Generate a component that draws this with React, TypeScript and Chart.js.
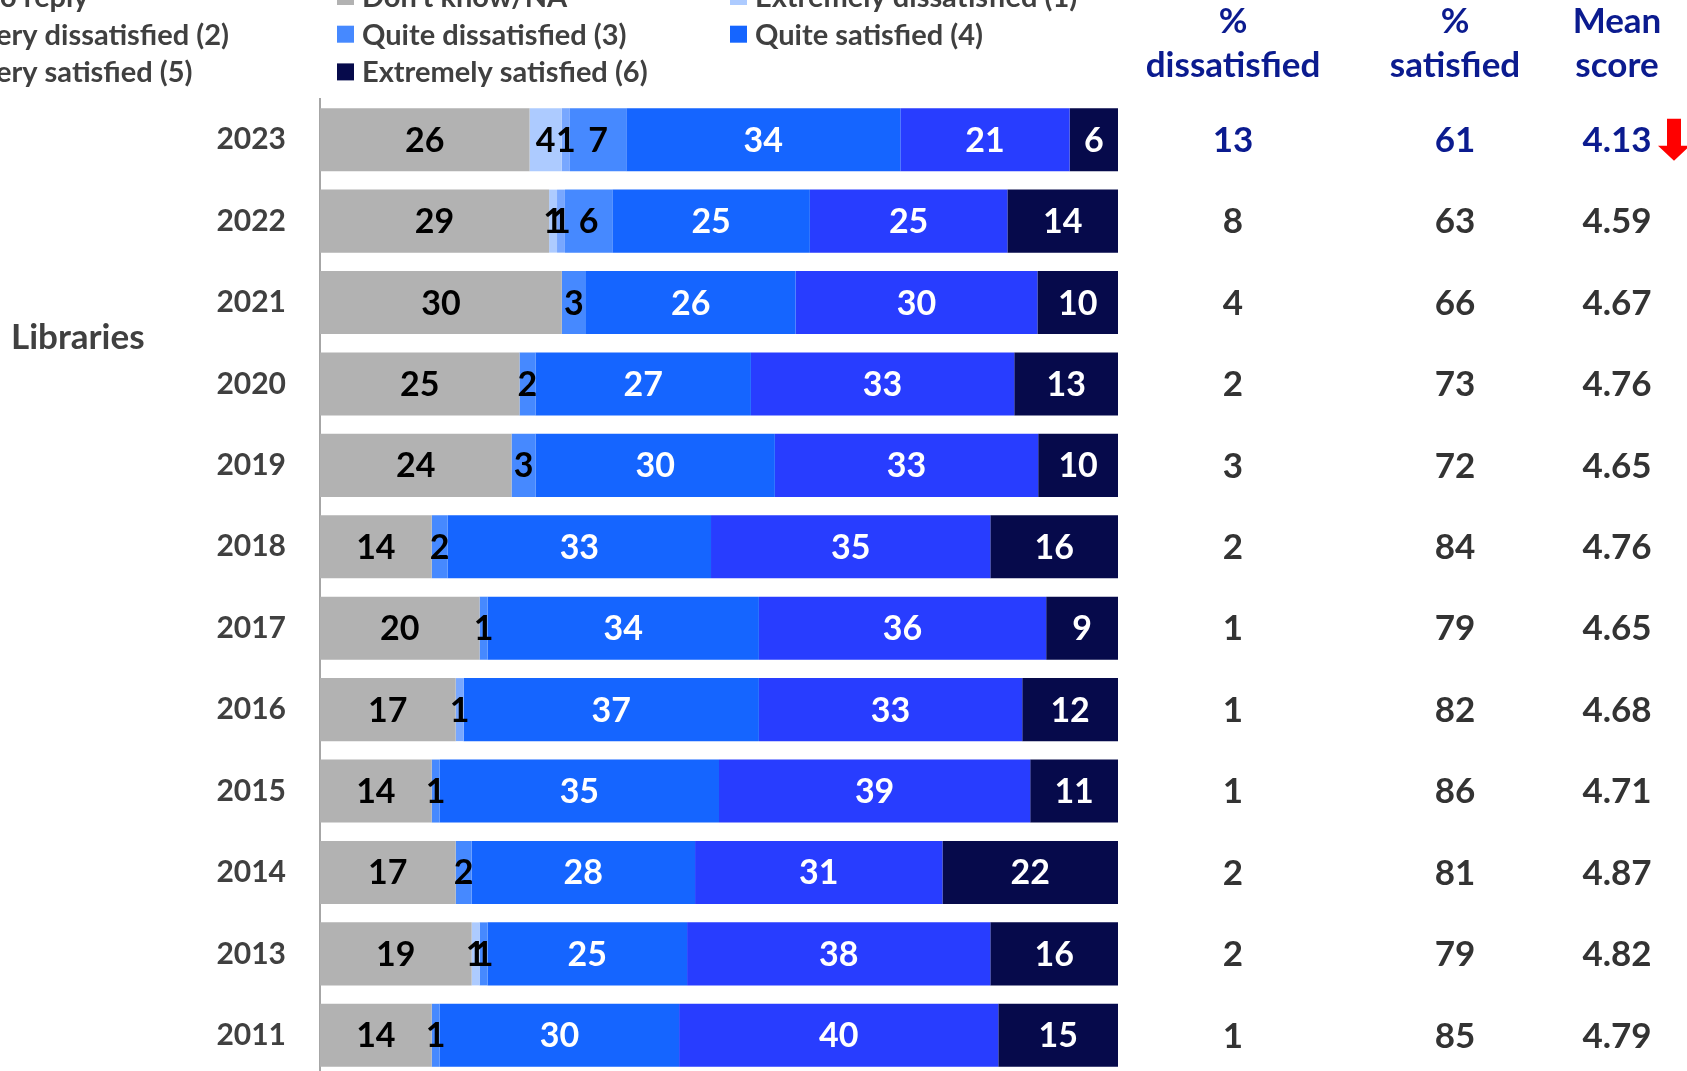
import React, { useEffect, useRef } from "react";
import { Chart, registerables } from "chart.js";

Chart.register(...registerables);

// ---------- data ----------
const years = ["2023", "2022", "2021", "2020", "2019", "2018", "2017", "2016", "2015", "2014", "2013", "2011"];
const groupLabel = "Libraries";

const seriesNames = [
  "No reply",
  "Don't know/NA",
  "Extremely dissatisfied (1)",
  "Very dissatisfied (2)",
  "Quite dissatisfied (3)",
  "Quite satisfied (4)",
  "Very satisfied (5)",
  "Extremely satisfied (6)",
];

const noReply = [0, 0, 0, 0, 0, 0, 0, 0, 0, 0, 0, 0];
const dontKnow = [26, 29, 30, 25, 24, 14, 20, 17, 14, 17, 19, 14];
const extremelyDissatisfied = [4, 1, 0, 0, 0, 0, 0, 0, 0, 0, 1, 0];
const veryDissatisfied = [1, 1, 0, 0, 0, 0, 0, 1, 0, 0, 0, 0];
const quiteDissatisfied = [7, 6, 3, 2, 3, 2, 1, 0, 1, 2, 1, 1];
const quiteSatisfied = [34, 25, 26, 27, 30, 33, 34, 37, 35, 28, 25, 30];
const verySatisfied = [21, 25, 30, 33, 33, 35, 36, 33, 39, 31, 38, 40];
const extremelySatisfied = [6, 14, 10, 13, 10, 16, 9, 12, 11, 22, 16, 15];

const pctDissatisfied = ["13", "8", "4", "2", "3", "2", "1", "1", "1", "2", "2", "1"];
const pctSatisfied = ["61", "63", "66", "73", "72", "84", "79", "82", "86", "81", "79", "85"];
const meanScore = ["4.13", "4.59", "4.67", "4.76", "4.65", "4.76", "4.65", "4.68", "4.71", "4.87", "4.82", "4.79"];

const columnHeaders = [
  ["%", "dissatisfied"],
  ["%", "satisfied"],
  ["Mean", "score"],
];

const allSeries = [
  noReply,
  dontKnow,
  extremelyDissatisfied,
  veryDissatisfied,
  quiteDissatisfied,
  quiteSatisfied,
  verySatisfied,
  extremelySatisfied,
];

// ---------- styles ----------
const seriesColors = ["#d9d9d9", "#b2b2b2", "#adcbff", "#78a7ff", "#4689ff", "#1565ff", "#283dff", "#060a4b"];
const labelColors = ["#000", "#000", "#000", "#000", "#000", "#fff", "#fff", "#fff"];
const FONT = "Lato, 'Open Sans', sans-serif";
const NAVY = "#0b1b8f";
const GREY_TEXT = "#333333";

const W = 1687;
const H = 1080;
const PLOT_LEFT = 320;
const PLOT_RIGHT = 1118;
const PLOT_TOP = 99;
const PLOT_BOTTOM = 1076;

const totals = years.map((_, j) => allSeries.reduce((s, arr) => s + arr[j], 0));

const overlayPlugin = {
  id: "overlay",
  afterDatasetsDraw(chart: any) {
    const ctx = chart.ctx;
    ctx.save();
    // bar value labels
    ctx.font = `bold 34px ${FONT}`;
    ctx.textAlign = "center";
    ctx.textBaseline = "middle";
    chart.data.datasets.forEach((ds: any, i: number) => {
      const meta = chart.getDatasetMeta(i);
      meta.data.forEach((bar: any, j: number) => {
        const raw = allSeries[i][j];
        if (!raw) return;
        const p = bar.getProps(["x", "y", "base"], true);
        ctx.fillStyle = labelColors[i];
        ctx.fillText(String(raw), (p.x + p.base) / 2, p.y + 1);
      });
    });
    ctx.restore();
  },
  afterDraw(chart: any) {
    const ctx = chart.ctx;
    const yScale = chart.scales.y;
    ctx.save();
    ctx.textBaseline = "middle";

    // legend (3 columns); first column right-anchored so its widest text ends at x=229
    ctx.font = `bold 29px ${FONT}`;
    ctx.textAlign = "left";
    const col1Width = Math.max(
      ...chart.data.datasets.filter((_: any, k: number) => k % 3 === 0).map((d: any) => ctx.measureText(d.label).width)
    );
    const colTextX = [229 - col1Width, 362, 755];
    chart.data.datasets.forEach((ds: any, k: number) => {
      const col = k % 3;
      const row = Math.floor(k / 3);
      const tx = colTextX[col];
      const my = -3.5 + row * 37.7;
      ctx.fillStyle = ds.backgroundColor;
      ctx.fillRect(tx - 25, my - 8.5, 17, 17);
      ctx.fillStyle = "#404040";
      ctx.fillText(ds.label, tx, my + 1);
    });

    // group label
    ctx.font = `bold 35px ${FONT}`;
    ctx.fillStyle = "#404040";
    ctx.textAlign = "left";
    ctx.fillText(groupLabel, 11, 338);

    // column headers
    const colX = [1233, 1455, 1617];
    ctx.font = `bold 35px ${FONT}`;
    ctx.textAlign = "center";
    ctx.fillStyle = NAVY;
    columnHeaders.forEach((h, c) => {
      ctx.fillText(h[0], colX[c], 22);
      ctx.fillText(h[1], colX[c], 66);
    });

    // column values
    ctx.font = `bold 35px ${FONT}`;
    const cols = [pctDissatisfied, pctSatisfied, meanScore];
    years.forEach((_, j) => {
      const y = yScale.getPixelForValue(j);
      ctx.fillStyle = j === 0 ? NAVY : GREY_TEXT;
      cols.forEach((arr, c) => ctx.fillText(arr[j], colX[c], y + 1));
    });

    // red down arrow next to the 2023 mean score
    const ay = yScale.getPixelForValue(0);
    ctx.fillStyle = "#ff0000";
    ctx.beginPath();
    ctx.moveTo(1667, ay - 21);
    ctx.lineTo(1681, ay - 21);
    ctx.lineTo(1681, ay + 6);
    ctx.lineTo(1690, ay + 6);
    ctx.lineTo(1674, ay + 21);
    ctx.lineTo(1658, ay + 6);
    ctx.lineTo(1667, ay + 6);
    ctx.closePath();
    ctx.fill();
    ctx.restore();
  },
};

export default function App() {
  const ref = useRef<HTMLCanvasElement | null>(null);

  useEffect(() => {
    if (!ref.current) return;
    const datasets = allSeries.map((arr, i) => ({
      label: seriesNames[i],
      data: arr.map((v, j) => (v / totals[j]) * 100),
      backgroundColor: seriesColors[i],
      borderWidth: 0,
      barPercentage: 0.774,
      categoryPercentage: 1,
    }));
    const chart = new Chart(ref.current, {
      type: "bar",
      data: { labels: years, datasets },
      options: {
        indexAxis: "y",
        responsive: false,
        maintainAspectRatio: false,
        devicePixelRatio: 1,
        animation: false,
        layout: {
          padding: { left: 0, right: W - PLOT_RIGHT, top: PLOT_TOP, bottom: H - PLOT_BOTTOM },
        },
        plugins: { legend: { display: false }, tooltip: { enabled: false } },
        scales: {
          x: { display: false, stacked: true, min: 0, max: 100 },
          y: {
            stacked: true,
            afterFit: (scale: any) => {
              scale.width = PLOT_LEFT;
              scale.paddingTop = 0;
              scale.paddingBottom = 0;
            },
            grid: { display: false, drawTicks: false },
            border: { display: true, color: "#a6a6a6", width: 2 },
            ticks: {
              color: "#404040",
              padding: 34,
              font: { family: FONT, weight: "bold", size: 30 },
            },
          },
        },
      },
      plugins: [overlayPlugin],
    } as any);
    return () => chart.destroy();
  }, []);

  return (
    <div style={{ position: "fixed", left: 0, top: 0, width: W, height: 1071, overflow: "hidden", background: "#fff" }}>
      <canvas ref={ref} width={W} height={H} style={{ display: "block", width: W, height: H }} />
    </div>
  );
}
